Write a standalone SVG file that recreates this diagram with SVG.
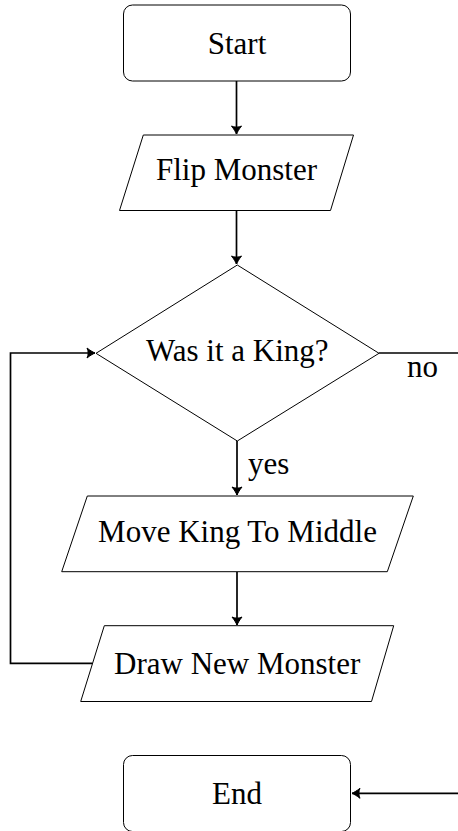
<svg xmlns="http://www.w3.org/2000/svg" width="458" height="831" viewBox="0 0 458 831">
  <style>
    .node { fill: #ffffff; stroke: #000000; stroke-width: 1; }
    .label { font-family: "Liberation Serif", "DejaVu Serif", serif; font-size: 31px; fill: #000000; text-anchor: middle; }
    .edge-label { font-family: "Liberation Serif", "DejaVu Serif", serif; font-size: 31px; fill: #000000; }
    .edge { fill: none; stroke: #000000; stroke-width: 1.7; }
  </style>
  <defs>
    <!-- curved barb arrowhead, tip at the path end -->
    <marker id="arrow" markerUnits="userSpaceOnUse" markerWidth="12" markerHeight="12" refX="0" refY="0" viewBox="-9 -6 10 12" orient="auto" overflow="visible">
      <path d="M-8,-5 C-5,-2.6 -1.8,-0.8 0,0 C-1.8,0.8 -5,2.6 -8,5 C-6.5,2.5 -6.5,-2.5 -8,-5 Z" fill="#000000" stroke="#000000" stroke-width="1" stroke-linejoin="round"/>
    </marker>
  </defs>

  <rect x="0" y="0" width="458" height="831" fill="#ffffff"/>

  <!-- connectors -->
  <g id="connectors">
    <line class="edge" x1="236.5" y1="81" x2="236.5" y2="134" marker-end="url(#arrow)"/>
    <line class="edge" x1="236.5" y1="210.5" x2="236.5" y2="264" marker-end="url(#arrow)"/>
    <line class="edge" x1="237" y1="441" x2="237" y2="495" marker-end="url(#arrow)"/>
    <line class="edge" x1="237" y1="572" x2="237" y2="625" marker-end="url(#arrow)"/>
    <polyline class="edge" points="92.5,663.3 10.5,663.3 10.5,353 95,353" marker-end="url(#arrow)"/>
    <line class="edge" x1="379" y1="353" x2="458" y2="353"/>
    <line class="edge" x1="458" y1="793.3" x2="352" y2="793.3" marker-end="url(#arrow)"/>
    <text class="edge-label" x="407" y="377">no</text>
    <text class="edge-label" x="248" y="473.5">yes</text>
  </g>

  <!-- nodes -->
  <g id="start">
    <rect class="node" x="123.5" y="5" width="227" height="76" rx="9" ry="9"/>
    <text class="label" x="237" y="53.5">Start</text>
  </g>

  <g id="flip-monster">
    <polygon class="node" points="143.3,135 353.5,135 330.5,210.5 119.5,210.5"/>
    <text class="label" x="236.5" y="180">Flip Monster</text>
  </g>

  <g id="was-it-a-king">
    <polygon class="node" points="237.3,265 379,353.3 237.3,441 96,353.3"/>
    <text class="label" x="237.3" y="361">Was it a King?</text>
  </g>

  <g id="move-king-to-middle">
    <polygon class="node" points="87.3,496 413.3,496 387.3,571.7 61.7,571.7"/>
    <text class="label" x="237.5" y="541.7">Move King To Middle</text>
  </g>

  <g id="draw-new-monster">
    <polygon class="node" points="104.3,625.7 393.7,625.7 371.5,701.5 80.7,701.5"/>
    <text class="label" x="237.2" y="674">Draw New Monster</text>
  </g>

  <g id="end">
    <rect class="node" x="123.5" y="755.5" width="227" height="76" rx="9" ry="9"/>
    <text class="label" x="237" y="804.3">End</text>
  </g>
</svg>
